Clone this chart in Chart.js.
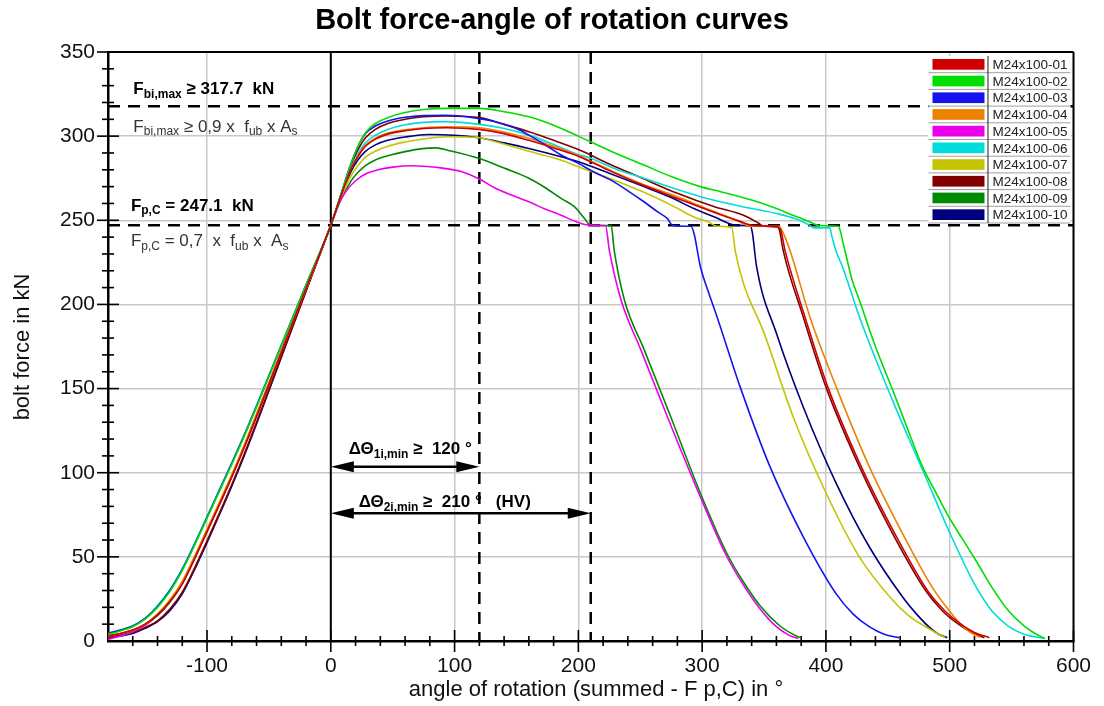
<!DOCTYPE html>
<html>
<head>
<meta charset="utf-8">
<title>Bolt force-angle of rotation curves</title>
<script src="https://cdn.jsdelivr.net/npm/chart.js@4.4.1/dist/chart.umd.min.js"></script>
<style>
  html, body { margin: 0; padding: 0; background: #fff; }
  canvas { display: block; }
</style>
</head>
<body>
<canvas id="boltChart" width="1104" height="706"></canvas>
<script>
const FONT = "'Liberation Sans', Arial, Helvetica, sans-serif"

// Test bolts and their line colours
const seriesNames = ['M24x100-01', 'M24x100-02', 'M24x100-03', 'M24x100-04', 'M24x100-05',
  'M24x100-06', 'M24x100-07', 'M24x100-08', 'M24x100-09', 'M24x100-10']
const seriesColors = ['#d00000', '#00dd00', '#1414f0', '#ec8200', '#ec00ec',
  '#00dcdc', '#c4c400', '#820000', '#008a00', '#00007e']

// [angle of rotation in °, bolt force in kN] for each bolt
const bolt01 = [[-180, 3], [-170, 4.5], [-160, 6.5], [-150, 10], [-140, 15.5], [-130, 23.5], [-120, 34],
  [-110, 49], [-100, 65], [-90, 81], [-80, 97.5], [-70, 115], [-60, 133.5], [-40, 171.5], [-20, 209.5],
  [0, 247.1], [8, 264], [16, 280], [22, 288], [28, 294], [36, 298.2], [46, 301.2], [60, 303.2], [75, 304.5],
  [93, 305], [120, 304], [140, 301.5], [160, 297.5], [180, 293], [200, 288], [225, 279.5], [250, 271.5],
  [280, 263], [305, 256], [330, 249.5], [342, 246.8], [360, 246.3], [363.5, 244], [367, 232], [383, 192.7],
  [401.5, 151], [428.5, 103.6], [455.5, 64], [482, 30], [496, 18], [509, 10], [520, 5], [532, 2]]

const bolt02 = [[-180, 4], [-170, 6], [-160, 8.5], [-150, 13], [-140, 20], [-130, 29.5], [-120, 42], [-110, 57],
  [-100, 73], [-90, 89], [-80, 105], [-70, 121.5], [-60, 139], [-40, 175.5], [-20, 211.5], [0, 247.1],
  [8, 265], [16, 283], [22, 294], [28, 302], [36, 307.5], [46, 311], [60, 314], [75, 315.8], [93, 316.5],
  [120, 316.5], [140, 314.5], [160, 311.5], [180, 306.5], [200, 300], [225, 291.5], [253, 282.8], [275, 276],
  [298.6, 270], [315, 267], [340, 262], [360, 257], [375, 252.5], [387, 249], [395, 246.8], [410, 246.5],
  [411.5, 244], [414, 236], [417, 227], [421, 215], [427, 202.6], [440, 175], [454, 149], [466, 126],
  [478, 103.6], [489, 88], [499, 74], [510, 61], [521, 48], [534, 32], [547, 18.4], [560, 9], [570, 4],
  [577, 1.5]]

const bolt03 = [[-180, 4.5], [-170, 6.5], [-160, 9], [-150, 13.5], [-140, 20.5], [-130, 30], [-120, 42.5],
  [-110, 57.5], [-100, 73.5], [-90, 89.5], [-80, 105.5], [-70, 122], [-60, 139.5], [-40, 175.5], [-20, 211.5],
  [0, 247.1], [8, 265], [16, 283], [22, 294], [28, 301.5], [36, 306], [46, 309], [60, 311.2], [75, 312.2],
  [93, 312.4], [115, 311], [133, 308.6], [150, 304.5], [160, 300.6], [175, 294], [186, 288.8], [200, 283.8],
  [213, 278.5], [226, 274], [240, 267.5], [253, 261], [265, 254.5], [272, 251], [276, 247], [285, 246.5],
  [291, 246.5], [293.5, 242], [298.6, 222.4], [305, 207.5], [312, 192.7], [330.7, 151], [354.8, 103.6],
  [381.6, 62], [408, 28.3], [422, 16], [435, 8.5], [447, 4], [459, 2]]

const bolt04 = [[-180, 3], [-170, 4.5], [-160, 6.5], [-150, 10], [-140, 16], [-130, 24], [-120, 35], [-110, 50],
  [-100, 66], [-90, 82], [-80, 98.5], [-70, 116], [-60, 134.5], [-40, 172], [-20, 209.5], [0, 247.1],
  [8, 264], [16, 280], [22, 288.5], [28, 294.5], [36, 298.8], [46, 301.8], [60, 303.8], [75, 305],
  [93, 305.6], [120, 305], [140, 302.5], [160, 298.7], [180, 294], [200, 288.5], [225, 280], [250, 272],
  [280, 264], [305, 256.5], [328, 250], [339, 246.5], [362, 246.5], [364.5, 244], [371, 232], [387, 192.7],
  [408.3, 151], [435, 103.6], [461.8, 64], [485.8, 32], [497, 20.5], [507, 11.5], [516, 5.5], [525, 2]]

const bolt05 = [[-180, 1], [-170, 3], [-160, 5.5], [-150, 9.5], [-140, 15.5], [-130, 23.5], [-120, 34.5],
  [-110, 49.5], [-100, 65.5], [-90, 81.5], [-80, 98], [-70, 115.5], [-60, 134], [-40, 172], [-20, 209.5],
  [0, 247.1], [6, 259], [12, 267], [20, 273.5], [28, 277.5], [38, 280], [50, 281.6], [66, 282.4], [85, 281.5],
  [106, 278.9], [120, 274.5], [133, 269], [146, 265], [160, 261], [172, 257], [186, 253], [197, 249.5],
  [205, 247.5], [215, 247], [222, 246.8], [225, 232.3], [234.5, 202.6], [250.5, 173], [271.9, 133.3],
  [297.3, 87.8], [318.7, 52], [331, 36], [345.4, 20.4], [360, 8.5], [370, 3.5], [377.5, 1.5]]

const bolt06 = [[-180, 4.5], [-170, 6.5], [-160, 9], [-150, 13.5], [-140, 21], [-130, 30.5], [-120, 43],
  [-110, 58], [-100, 74], [-90, 90], [-80, 106], [-70, 122.5], [-60, 140], [-40, 176], [-20, 211.5],
  [0, 247.1], [8, 264], [16, 280.5], [22, 289.5], [28, 296], [36, 300.5], [46, 304], [60, 306.8],
  [75, 308.2], [93, 308.6], [120, 307], [140, 304.5], [160, 300.6], [180, 295], [200, 289], [208, 287.5],
  [230, 280.5], [253, 275], [275, 269.5], [298.6, 264], [330, 258.5], [360, 254], [375, 251], [387, 247],
  [390, 245.5], [403, 245.5], [405, 240], [408, 232], [413.6, 222], [427, 192.7], [453.8, 143],
  [480.5, 97.6], [499, 66], [520.6, 33], [534, 18], [547, 9], [560, 4], [577, 1.5]]

const bolt07 = [[-180, 3], [-170, 4.5], [-160, 6.5], [-150, 10], [-140, 16], [-130, 24.5], [-120, 35.5],
  [-110, 50.5], [-100, 66.5], [-90, 82.5], [-80, 99], [-70, 116.5], [-60, 135], [-40, 172.5], [-20, 209.5],
  [0, 247.1], [8, 263], [16, 276], [22, 282.5], [28, 287.5], [36, 291], [46, 294], [60, 296.5], [75, 298.3],
  [93, 299.6], [120, 299], [133, 296.7], [160, 291], [186, 285.8], [200, 281.8], [225, 275], [253, 266.6],
  [275, 259], [293.3, 252], [305, 249], [312, 246.5], [324, 245.5], [326.7, 232], [333.4, 212.5],
  [349.5, 184], [373.5, 133.3], [400.2, 87.8], [427, 50], [453.8, 24.4], [467, 15], [480.5, 8.5],
  [490, 4.5], [496.5, 2]]

const bolt08 = [[-180, 2], [-170, 3.5], [-160, 5], [-150, 8], [-140, 12], [-130, 19], [-120, 29], [-110, 43.5],
  [-100, 59.5], [-90, 76], [-80, 93], [-70, 111], [-60, 130], [-40, 169], [-20, 208], [0, 247.1],
  [8, 264.5], [16, 282], [22, 292], [28, 299], [36, 304], [46, 307.5], [60, 310], [75, 311.5], [93, 312],
  [120, 311], [140, 307], [160, 302.6], [180, 297.5], [200, 292], [225, 283.5], [250, 275.5], [280, 266],
  [310, 258], [333.4, 253], [345, 248.5], [349.5, 246.5], [361, 246], [362.5, 244], [365.5, 232],
  [381.6, 192.7], [400, 151], [427, 103.6], [453.8, 64], [480.5, 30], [494, 18], [507, 10], [518, 5],
  [528, 2]]

const bolt09 = [[-180, 2.5], [-170, 4], [-160, 6], [-150, 9.5], [-140, 15], [-130, 23], [-120, 34], [-110, 49],
  [-100, 65], [-90, 81], [-80, 97.5], [-70, 115], [-60, 133.5], [-40, 171.5], [-20, 209.5], [0, 247.1],
  [8, 262], [16, 273], [22, 278.5], [28, 282.5], [36, 285.8], [46, 288.3], [60, 290.8], [74, 292.6],
  [85, 293], [95, 291.5], [119.5, 286.8], [140, 281], [160, 275], [173, 269.5], [186, 263], [197, 258],
  [205, 251], [209, 247.5], [215, 247], [226.5, 246.8], [229, 232], [237.2, 202.6], [253.2, 173],
  [274.6, 133.3], [298.6, 87.8], [320, 52], [333, 35.5], [346.8, 21], [362, 9.5], [372, 4.5], [379, 2]]

const bolt10 = [[-180, 2], [-170, 3], [-160, 4.5], [-150, 7.5], [-140, 11.5], [-130, 18], [-120, 28],
  [-110, 42.5], [-100, 58.5], [-90, 75], [-80, 92], [-70, 110], [-60, 129], [-40, 168.5], [-20, 208],
  [0, 247.1], [8, 263.5], [16, 278.5], [22, 286], [28, 291], [36, 294.8], [46, 297.5], [60, 299.5],
  [79, 301], [100, 300.5], [119.5, 299], [140, 296], [160, 292.7], [186, 287.8], [200, 284.8], [225, 278],
  [253, 270], [275, 263.5], [293.3, 257], [310, 252], [328, 247], [339, 246.5], [340.5, 243], [344, 222.4],
  [360, 182.8], [381.6, 139.2], [408.3, 93.7], [435, 56], [461.8, 26.3], [472, 17], [483, 8.5], [491, 4],
  [498, 2]]

const boltCurves = [bolt01, bolt02, bolt03, bolt04, bolt05, bolt06, bolt07, bolt08, bolt09, bolt10]

// Axis ticks
const xTicks = [-100, 0, 100, 200, 300, 400, 500, 600]
const yTicks = [0, 50, 100, 150, 200, 250, 300, 350]

// Limits: F_bi,max and F_p,C (kN), required rotation ΔΘ1i,min and ΔΘ2i,min (°)
const forceLimits = [317.7, 247.1]
const angleLimits = [120, 210]

// Draws text with subscript parts, left aligned at baseline y
function drawRich(ctx, x, y, parts, size, weight, color) {
  let cx = x
  ctx.fillStyle = color
  ctx.textAlign = 'left'
  ctx.textBaseline = 'alphabetic'
  for (const p of parts) {
    const fs = p.sub ? Math.round(size * 0.72) : size
    ctx.font = `${weight} ${fs}px ${FONT}`
    ctx.fillText(p.t, cx, p.sub ? y + size * 0.2 : y)
    cx += ctx.measureText(p.t).width
  }
}

function strokeLine(ctx, x0, y0, x1, y1) {
  ctx.beginPath()
  ctx.moveTo(x0, y0)
  ctx.lineTo(x1, y1)
  ctx.stroke()
}

// Double headed arrow between two x pixels
function drawArrow(ctx, x0, x1, py) {
  const len = 23, half = 5.5
  ctx.strokeStyle = '#000'
  ctx.fillStyle = '#000'
  ctx.lineWidth = 2.5
  strokeLine(ctx, x0 + 6, py, x1 - 6, py)
  for (const [tip, dir] of [[x0, 1], [x1, -1]]) {
    ctx.beginPath()
    ctx.moveTo(tip, py)
    ctx.lineTo(tip + dir * len, py - half)
    ctx.lineTo(tip + dir * len, py + half)
    ctx.closePath()
    ctx.fill()
  }
}

const boltOverlay = {
  id: 'boltOverlay',
  beforeDatasetsDraw(chart) {
    const { ctx, chartArea: a, scales: { x, y } } = chart
    ctx.save()
    // zero rotation line
    ctx.strokeStyle = '#000'
    ctx.lineWidth = 2
    const x0 = x.getPixelForValue(0)
    strokeLine(ctx, x0, a.top, x0, a.bottom)

    // dashed limit lines
    ctx.lineWidth = 2.5
    ctx.setLineDash([12, 8])
    for (const f of forceLimits) {
      const py = y.getPixelForValue(f)
      strokeLine(ctx, a.left, py, a.right, py)
    }
    for (const ang of angleLimits) {
      const px = x.getPixelForValue(ang)
      strokeLine(ctx, px, a.top, px, a.bottom)
    }
    ctx.restore()
  },
  afterDatasetsDraw(chart) {
    const { ctx, chartArea: a, scales: { x, y } } = chart
    ctx.save()

    // frame on top and right
    ctx.strokeStyle = '#000'
    ctx.lineWidth = 2
    strokeLine(ctx, a.left, a.top, a.right, a.top)
    strokeLine(ctx, a.right, a.top, a.right, a.bottom)

    // major and minor tick marks crossing the axes
    ctx.lineWidth = 1.6
    for (let v = -160; v <= 600; v += 20) {
      const px = x.getPixelForValue(v)
      const len = v % 100 === 0 ? 11 : 5
      strokeLine(ctx, px, a.bottom - len, px, a.bottom + len)
    }
    for (let v = 10; v <= 350; v += 10) {
      const py = y.getPixelForValue(v)
      const len = v % 50 === 0 ? 11 : 6
      strokeLine(ctx, a.left - len, py, a.left + len, py)
    }

    // limit annotations
    const lx = x.getPixelForValue(-159.5)
    drawRich(ctx, lx, y.getPixelForValue(324.8),
      [{ t: 'F' }, { t: 'bi,max', sub: true }, { t: ' ≥ 317.7  kN' }], 17, 'bold', '#000')
    drawRich(ctx, lx, y.getPixelForValue(302.5),
      [{ t: 'F' }, { t: 'bi,max', sub: true }, { t: ' ≥ 0,9 x  f' }, { t: 'ub', sub: true }, { t: ' x A' },
        { t: 's', sub: true }], 17, 'normal', '#333')
    const lx2 = x.getPixelForValue(-161.5)
    drawRich(ctx, lx2, y.getPixelForValue(255.5),
      [{ t: 'F' }, { t: 'p,C', sub: true }, { t: ' = 247.1  kN' }], 17, 'bold', '#000')
    drawRich(ctx, lx2, y.getPixelForValue(234.5),
      [{ t: 'F' }, { t: 'p,C', sub: true }, { t: ' = 0,7  x  f' }, { t: 'ub', sub: true }, { t: ' x  A' },
        { t: 's', sub: true }], 17, 'normal', '#333')

    // required rotation arrows
    drawRich(ctx, x.getPixelForValue(14.5), y.getPixelForValue(110.9),
      [{ t: 'ΔΘ' }, { t: '1i,min', sub: true }, { t: ' ≥  120 °' }], 17, 'bold', '#000')
    drawArrow(ctx, x.getPixelForValue(0), x.getPixelForValue(angleLimits[0]), y.getPixelForValue(103.6))
    drawRich(ctx, x.getPixelForValue(22.5), y.getPixelForValue(79.4),
      [{ t: 'ΔΘ' }, { t: '2i,min', sub: true }, { t: ' ≥  210 °   (HV)' }], 17, 'bold', '#000')
    drawArrow(ctx, x.getPixelForValue(0), x.getPixelForValue(angleLimits[1]), y.getPixelForValue(75.9))

    // legend table in the upper right corner
    const gx = a.right - 145, gy = a.top + 4, rowH = 16.7, gw = 142
    ctx.fillStyle = '#fff'
    ctx.fillRect(gx, gy, gw, rowH * seriesNames.length)
    ctx.font = `13.5px ${FONT}`
    ctx.textBaseline = 'alphabetic'
    ctx.textAlign = 'left'
    seriesNames.forEach((name, i) => {
      const top = gy + i * rowH
      ctx.fillStyle = seriesColors[i]
      ctx.fillRect(gx + 4, top + 3, 52, 10.7)
      ctx.fillStyle = '#222'
      ctx.fillText(name, gx + 64, top + 13)
      ctx.strokeStyle = '#a0a0a0'
      ctx.lineWidth = 1
      strokeLine(ctx, gx, top + rowH, gx + gw, top + rowH)
    })
    ctx.strokeStyle = '#444'
    ctx.lineWidth = 1.2
    strokeLine(ctx, gx + 59.5, gy, gx + 59.5, gy + rowH * seriesNames.length)

    // title and axis titles
    ctx.fillStyle = '#000'
    ctx.textAlign = 'center'
    ctx.textBaseline = 'middle'
    ctx.font = `bold 29px ${FONT}`
    ctx.fillText('Bolt force-angle of rotation curves', 552, 21)
    ctx.fillStyle = '#111'
    ctx.font = `22px ${FONT}`
    ctx.fillText('angle of rotation (summed - F p,C) in °', 596, 690)
    ctx.translate(23, 347)
    ctx.rotate(-Math.PI / 2)
    ctx.fillText('bolt force in kN', 0, 0)
    ctx.restore()
  }
}

const datasets = boltCurves.map((curve, i) => ({
  label: seriesNames[i],
  data: curve.map(([ang, force]) => ({ x: ang, y: force })),
  borderColor: seriesColors[i],
  backgroundColor: seriesColors[i],
  borderWidth: 1.6,
  pointRadius: 0,
  cubicInterpolationMode: 'monotone',
  fill: false
}))

new Chart(document.getElementById('boltChart'), {
  type: 'line',
  data: { datasets },
  options: {
    responsive: false,
    animation: false,
    devicePixelRatio: 1,
    events: [],
    layout: { padding: { top: 52, right: 27, left: 0, bottom: 0 } },
    plugins: {
      legend: { display: false },
      tooltip: { enabled: false },
      title: { display: false }
    },
    scales: {
      x: {
        type: 'linear',
        min: -180,
        max: 600,
        afterBuildTicks: s => { s.ticks = xTicks.map(value => ({ value })) },
        afterFit: s => { s.height = 65 },
        grid: { color: '#c8c8c8', lineWidth: 1.5, drawTicks: false },
        border: { color: '#000', width: 2.5 },
        ticks: { font: { family: FONT, size: 21 }, color: '#111', padding: 13, maxRotation: 0, autoSkip: false }
      },
      y: {
        type: 'linear',
        min: 0,
        max: 350,
        afterBuildTicks: s => { s.ticks = yTicks.map(value => ({ value })) },
        afterFit: s => { s.width = 108 },
        grid: { color: '#c8c8c8', lineWidth: 1.5, drawTicks: false },
        border: { color: '#000', width: 2.5 },
        ticks: { font: { family: FONT, size: 21 }, color: '#111', padding: 13 }
      }
    }
  },
  plugins: [boltOverlay]
})
</script>
</body>
</html>
